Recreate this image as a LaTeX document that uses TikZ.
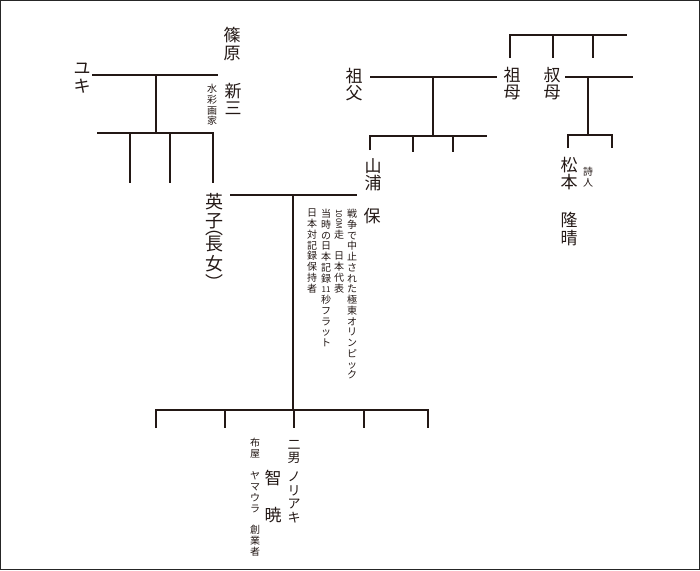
\documentclass[tikz,border=0pt]{standalone}
\usepackage{fontspec}
\setmainfont{Noto Sans CJK JP}
\usepackage{graphicx}
\usetikzlibrary{positioning}
\definecolor{sumi}{RGB}{35,24,21}
\tikzset{
  % family lines
  kei/.style={line width=2pt, draw=sumi},
  % names (vertical text)
  namae/.style={font=\fontsize{17}{17.5}\selectfont, text=sumi, align=center, inner sep=0pt, anchor=north},
  % notes (small vertical text)
  chuki/.style={font=\fontsize{10}{10.75}\selectfont, text=sumi, align=center, inner sep=0pt, anchor=north}
}
\newcommand{\yoko}[1]{{\fontsize{8}{8}\selectfont #1}}
\newcommand{\tatemaki}[1]{\rotatebox{-90}{\fontsize{8}{8}\selectfont #1}}

\begin{document}
\begin{tikzpicture}[x=1pt, y=-1pt]
  \useasboundingbox (0,0) rectangle (700,570);
  \draw[black!85, line width=1.2pt] (0.6,0.6) rectangle (699.4,569.4);

  % Nodes: left family
  \node[namae] (yuki) at (82,63) {ユ\\キ};
  \node[namae] (shinohara) at (232,27) {篠\\原};
  \node[namae] (shinzo) at (233,83) {新\\三};
  \node[chuki] (suisai) at (212,84) {水\\彩\\画\\家};
  \node[namae, font=\fontsize{18}{19.5}\selectfont] (eiko) at (214,193)
    {英\\子\\[-12.5pt]︵\\[-3.5pt]長\\女\\︶};

  % Nodes: right family
  \node[namae] (sofu) at (354,68) {祖\\父};
  \node[namae] (sobo) at (512,67) {祖\\母};
  \node[namae] (shukubo) at (552,67) {叔\\母};
  \node[namae] (yamaura) at (373,158) {山\\浦};
  \node[namae] (tamotsu) at (372,208) {保};
  \node[namae] (matsumoto) at (569,157) {松\\本};
  \node[chuki] (shijin) at (588,167) {詩\\人};
  \node[namae] (ryusei) at (569,212) {隆\\晴};

  % Notes on Tamotsu
  \node[chuki] (note1) at (352,209) {戦\\争\\で\\中\\止\\さ\\れ\\た\\極\\東\\オ\\リ\\ン\\ピ\\ッ\\ク};
  \node[chuki] (note2) at (339,209) {\tatemaki{100M}\\走\\[10.75pt]日\\本\\代\\表};
  \node[chuki] (note3) at (326,209) {当\\時\\の\\日\\本\\記\\録\\\yoko{11}\\秒\\フ\\ラ\\ッ\\ト};
  \node[chuki] (note4) at (312,209) {日\\本\\対\\記\\録\\保\\持\\者};

  % Nodes: children
  \node[chuki, font=\fontsize{13}{13.6}\selectfont] (jinan) at (294,440) {二\\男\\[5pt]ノ\\リ\\ア\\キ};
  \node[namae, font=\fontsize{17}{18}\selectfont] (tomoaki) at (273,470) {智\\[19pt]暁};
  \node[chuki, font=\fontsize{10}{10.9}\selectfont] (nunoya) at (255,438)
    {布\\屋\\[10.9pt]ヤ\\マ\\ウ\\ラ\\[10.9pt]創\\業\\者};

  % Coordinates of the lines
  \coordinate (yukiR) at (92,75);
  \coordinate (shinL) at (218,75);
  \coordinate (fuufu1) at (156,75);
  \coordinate (kyodai1) at (156,133);
  \coordinate (kyodai1L) at (97,133);
  \coordinate (kyodai1R) at (213,133);
  \coordinate (eikoT) at (213,183);

  \coordinate (ueL) at (510,35);
  \coordinate (ueR) at (627,35);
  \coordinate (soboT) at (510,58);

  \coordinate (sofuR) at (370,77);
  \coordinate (soboL) at (497,77);
  \coordinate (fuufu2) at (433,77);
  \coordinate (kyodai2) at (433,136);
  \coordinate (kyodai2L) at (370,136);
  \coordinate (kyodai2R) at (487,136);
  \coordinate (yamauraT) at (370,150);

  \coordinate (shukuboR) at (565,77);
  \coordinate (shukuboE) at (633,77);
  \coordinate (fuufu3) at (588,77);
  \coordinate (kyodai3) at (588,135);
  \coordinate (kyodai3L) at (568,135);
  \coordinate (kyodai3R) at (612,135);

  \coordinate (eikoR) at (230,195);
  \coordinate (tamotsuL) at (357,195);
  \coordinate (fuufu4) at (293,195);
  \coordinate (kyodai4) at (293,410);
  \coordinate (kyodai4L) at (156,410);
  \coordinate (kyodai4R) at (428,410);

  % Lines: left family
  \draw[kei] (yukiR) -- (shinL);
  \draw[kei] (fuufu1) -- (kyodai1);
  \draw[kei] (kyodai1L) -- (kyodai1R) -- (eikoT);
  \foreach \x in {130,170}
    \draw[kei] (kyodai1L -| \x,0) -- ++(0,50);

  % Lines: great-grandparents
  \draw[kei] (soboT) -- (ueL) -- (ueR);
  \foreach \x in {553,593}
    \draw[kei] (ueL -| \x,0) -- ++(0,23);

  % Lines: grandparents
  \draw[kei] (sofuR) -- (soboL);
  \draw[kei] (fuufu2) -- (kyodai2);
  \draw[kei] (yamauraT) -- (kyodai2L) -- (kyodai2R);
  \foreach \x in {413,453}
    \draw[kei] (kyodai2L -| \x,0) -- ++(0,16);

  % Lines: aunt
  \draw[kei] (shukuboR) -- (shukuboE);
  \draw[kei] (fuufu3) -- (kyodai3);
  \draw[kei] ([yshift=-13pt]kyodai3L) -- (kyodai3L) -- (kyodai3R) -- ++(0,13);

  % Lines: parents and children
  \draw[kei] (eikoR) -- (tamotsuL);
  \draw[kei] (fuufu4) -- (kyodai4);
  \draw[kei] ([yshift=-18pt]kyodai4L) -- (kyodai4L) -- (kyodai4R) -- ++(0,18);
  \foreach \x in {225,294,364}
    \draw[kei] (kyodai4L -| \x,0) -- ++(0,18);
\end{tikzpicture}
\end{document}
